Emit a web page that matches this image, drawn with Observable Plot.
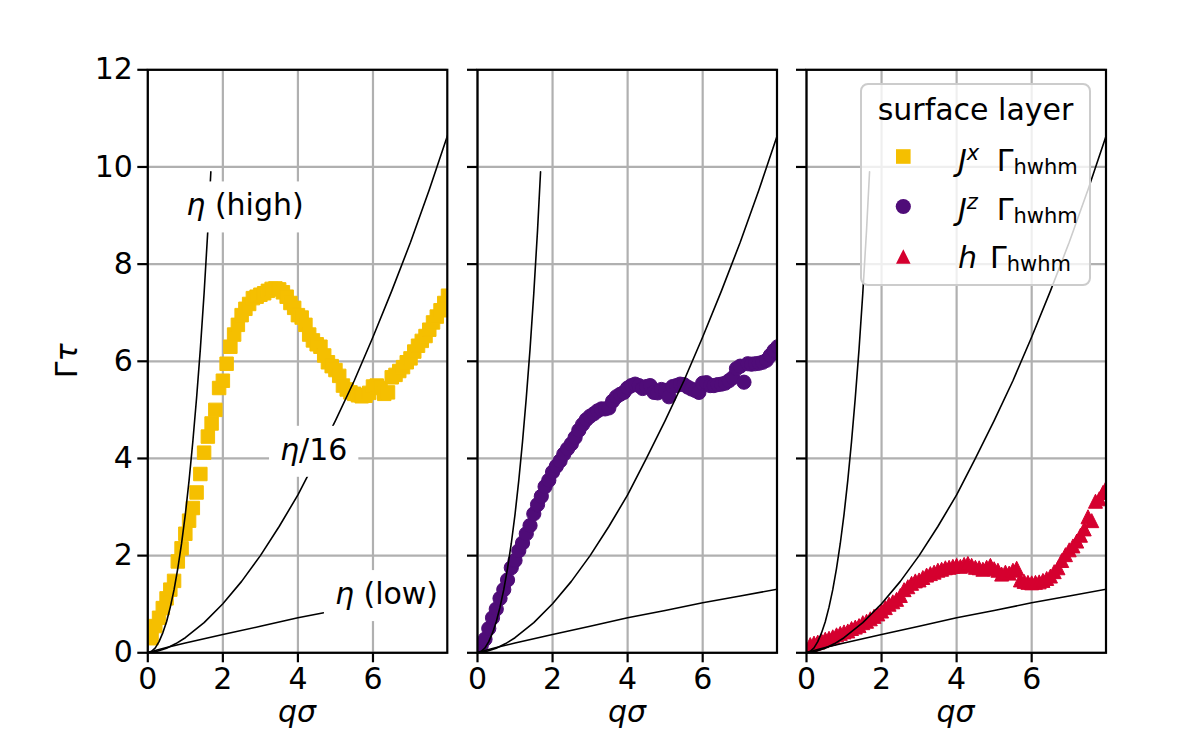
<!DOCTYPE html>
<html>
<head>
<meta charset="utf-8">
<script src="https://cdn.jsdelivr.net/npm/d3@7"></script>
<script src="https://cdn.jsdelivr.net/npm/@observablehq/plot@0.6"></script>
<style>
  body { margin: 0; background: #fff; }
  #fig { position: relative; width: 1196px; height: 745px; background: #fff; overflow: hidden; font-family: "DejaVu Sans", sans-serif; }
</style>
</head>
<body>
<div id="fig"></div>
<script>
// ---------------- data ----------------
const q = [0.1,0.2,0.3,0.4,0.5,0.6,0.7,0.8,0.9,1.0,
           1.1,1.2,1.3,1.4,1.5,1.6,1.7,1.8,1.9,2.0,
           2.1,2.2,2.3,2.4,2.5,2.6,2.7,2.8,2.9,3.0,
           3.1,3.2,3.3,3.4,3.5,3.6,3.7,3.8,3.9,4.0,
           4.1,4.2,4.3,4.4,4.5,4.6,4.7,4.8,4.9,5.0,
           5.1,5.2,5.3,5.4,5.5,5.6,5.7,5.8,5.9,6.0,
           6.1,6.2,6.3,6.4,6.5,6.6,6.7,6.8,6.9,7.0,
           7.1,7.2,7.3,7.4,7.5,7.6,7.7,7.8,7.9,8.0];

const gammaJx = [0.3,0.55,0.72,0.92,1.12,1.3,1.48,1.88,2.15,2.45,
                 2.72,2.98,3.3,3.68,4.12,4.45,4.72,5.0,5.45,5.6,
                 5.95,6.3,6.55,6.75,6.95,7.08,7.18,7.3,7.33,7.37,
                 7.4,7.45,7.49,7.5,7.48,7.42,7.33,7.2,7.1,6.95,
                 6.9,6.75,6.55,6.43,6.35,6.3,6.12,5.98,5.9,5.82,
                 5.7,5.5,5.42,5.36,5.33,5.3,5.28,5.29,5.35,5.48,
                 5.5,5.45,5.33,5.36,5.67,5.72,5.8,5.88,5.98,6.06,
                 6.2,6.32,6.42,6.52,6.65,6.8,6.92,7.05,7.2,7.35];

const gammaJz = [0.15,0.28,0.5,0.72,0.9,1.12,1.3,1.5,1.75,1.9,
                 2.1,2.26,2.45,2.62,2.86,3.05,3.22,3.42,3.55,3.72,
                 3.84,3.95,4.09,4.2,4.3,4.43,4.58,4.7,4.8,4.87,
                 4.92,4.98,5.02,5.02,5.04,5.18,5.27,5.32,5.36,5.45,
                 5.5,5.53,5.5,5.44,5.48,5.5,5.36,5.35,5.42,5.4,
                 5.27,5.48,5.5,5.53,5.52,5.47,5.43,5.4,5.36,5.55,
                 5.56,5.5,5.5,5.52,5.53,5.55,5.6,5.66,5.85,5.9,
                 5.57,5.95,5.94,5.95,5.96,5.98,6.02,6.12,6.22,6.3];

const gammaH = [0.17,0.2,0.22,0.25,0.28,0.3,0.33,0.37,0.4,0.43,
                0.45,0.5,0.53,0.56,0.62,0.65,0.7,0.75,0.8,0.86,
                0.93,1.0,1.05,1.1,1.18,1.3,1.36,1.43,1.48,1.5,
                1.55,1.6,1.63,1.66,1.7,1.72,1.75,1.76,1.78,1.8,
                1.78,1.82,1.84,1.8,1.76,1.75,1.72,1.76,1.8,1.73,
                1.7,1.62,1.66,1.64,1.7,1.74,1.5,1.47,1.45,1.44,
                1.45,1.46,1.49,1.53,1.58,1.67,1.75,1.9,2.02,2.12,
                2.2,2.3,2.42,2.55,2.8,2.72,3.12,3.17,3.3,3.42];

// reference curves
const highQ = [0,0.1,0.2,0.3,0.4,0.5,0.6,0.7,0.8,0.9,1.0,1.1,1.2,1.3,1.4,1.5,1.6,1.68];
const highG = [0,0.03,0.1,0.23,0.41,0.64,0.94,1.3,1.74,2.25,2.85,3.55,4.35,5.25,6.25,7.4,8.7,9.9];
const midQ  = [0,0.25,0.5,0.75,1,1.5,2,2.5,3,3.5,4,4.5,5,5.5,6,6.5,7,7.5,8];
const midG  = [0,0.03,0.095,0.19,0.31,0.62,1.01,1.47,2.0,2.6,3.25,4.0,4.78,5.6,6.5,7.45,8.45,9.53,10.68];
const lowQ  = [0,0.25,0.5,1,2,3,4,5,6,7,8];
const lowG  = [0,0.058,0.108,0.2,0.376,0.545,0.72,0.87,1.03,1.17,1.31];

const xTicks = [0,2,4,6];
const yTicks = [0,2,4,6,8,10,12];
const xDomain = [0, 7.98];
const yDomain = [0, 12];

const annotations = [
  {label: "η (high)", x: 2.59, y: 9.2},
  {label: "η/16",     x: 4.42, y: 4.17},
  {label: "η (low)",  x: 6.36, y: 1.2}
];

const seriesNames = ["Jx", "Jz", "h"];
const seriesColors = ["#f5bf00", "#4f0c78", "#d5002f"];
const legendTitle = "surface layer";
const legendLabels = [
  {main: "J", sup: "x"},
  {main: "J", sup: "z"},
  {main: "h", sup: null}
];

// ---------------- build ----------------
const NS = "http://www.w3.org/2000/svg";
const triangleSym = {
  draw(context, size) {
    const r = Math.sqrt(size / Math.PI);
    context.moveTo(0, -r);
    context.lineTo(r, r);
    context.lineTo(-r, r);
    context.closePath();
  }
};
const symbols = ["square", "circle", triangleSym];
const radii = [7.6, 7.1, 7.0];
const gammas = [gammaJx, gammaJz, gammaH];

const rows = (xs, ys) => xs.map((x, i) => ({x, y: ys[i]}));
const high = rows(highQ, highG), mid = rows(midQ, midG), low = rows(lowQ, lowG);

const fig = document.getElementById("fig");
const panelLeft = [147.3, 477.3, 805.7];
const innerW = 299.5, frameTop = 69.3, frameBottom = 652.3, H = 745;
const FS = 30;
const gridStyle = {stroke: "#b0b0b0", strokeOpacity: 1, strokeWidth: 2.2};
const lineStyle = {x: "x", y: "y", stroke: "black", strokeWidth: 1.6, clip: true};
const annotationSet = new Set(annotations.map(a => a.label));

for (let i = 0; i < 3; i++) {
  const ml = i === 0 ? panelLeft[0] : 30;
  const mr = 8;
  const marks = [
    Plot.ruleX(xTicks, {...gridStyle}),
    Plot.ruleY(yTicks, {...gridStyle}),
    Plot.dot(rows(q, gammas[i]), {
      x: "x", y: "y", symbol: symbols[i], r: radii[i],
      fill: seriesColors[i], stroke: seriesColors[i], strokeWidth: 1, clip: true
    }),
    Plot.line(high, lineStyle),
    Plot.line(mid,  lineStyle),
    Plot.line(low,  lineStyle)
  ];
  if (i === 0) {
    marks.push(Plot.text(annotations, {x: "x", y: "y", text: "label", fontSize: FS, fill: "black",
                                       textAnchor: "middle"}));
  }
  marks.push(
    Plot.frame({stroke: "black", strokeWidth: 2.2}),
    Plot.axisX({ticks: xTicks, tickSize: 10, tickPadding: 5, label: null, strokeWidth: 2.2, fontSize: FS}),
    Plot.axisY({ticks: yTicks, tickSize: 10, tickPadding: 5, label: null, strokeWidth: 2.2, fontSize: FS,
                tickFormat: i === 0 ? (d => String(d)) : (() => "")})
  );
  const svg = Plot.plot({
    width: ml + innerW + mr, height: H,
    marginLeft: ml, marginRight: mr, marginTop: frameTop, marginBottom: H - frameBottom,
    x: {domain: xDomain}, y: {domain: yDomain},
    style: {background: "transparent", fontSize: FS + "px", fontFamily: "DejaVu Sans", color: "black", overflow: "visible"},
    marks
  });
  svg.style.position = "absolute";
  svg.style.left = (panelLeft[i] - ml) + "px";
  svg.style.top = "0px";
  svg.style.maxWidth = "none";
  fig.appendChild(svg);

  // italic eta + white boxes behind the annotations
  Array.from(svg.querySelectorAll("text"))
    .filter(t => annotationSet.has(t.textContent))
    .forEach(t => {
      const s = t.textContent;
      t.textContent = "";
      const a = document.createElementNS(NS, "tspan");
      a.setAttribute("font-style", "italic");
      a.textContent = "η";
      t.appendChild(a);
      t.appendChild(document.createTextNode(s.slice(1)));
      const b = t.getBBox();
      const rect = document.createElementNS(NS, "rect");
      rect.setAttribute("x", b.x - 11);
      rect.setAttribute("y", b.y - 6);
      rect.setAttribute("width", b.width + 22);
      rect.setAttribute("height", b.height + 16);
      rect.setAttribute("fill", "white");
      rect.setAttribute("stroke", "none");
      if (t.getAttribute("transform")) rect.setAttribute("transform", t.getAttribute("transform"));
      t.parentNode.insertBefore(rect, t);
    });
}

// ---------------- overlay: axis labels and legend ----------------
const ov = document.createElementNS(NS, "svg");
ov.setAttribute("width", 1196); ov.setAttribute("height", 745);
ov.setAttribute("font-family", "DejaVu Sans");
ov.setAttribute("font-size", FS);
ov.style.position = "absolute"; ov.style.left = "0px"; ov.style.top = "0px";
fig.appendChild(ov);

function el(tag, attrs, parent) {
  const e = document.createElementNS(NS, tag);
  for (const k in attrs) e.setAttribute(k, attrs[k]);
  (parent || ov).appendChild(e);
  return e;
}
function tspan(parent, text, attrs) {
  const t = el("tspan", attrs || {}, parent);
  t.textContent = text;
  return t;
}

// y label
const yl = el("text", {transform: `translate(77,${(frameTop + frameBottom) / 2}) rotate(-90)`, "text-anchor": "middle"});
tspan(yl, "Γ");
tspan(yl, "τ", {"font-style": "italic"});

// x labels
panelLeft.forEach(L => {
  const xl = el("text", {x: L + innerW / 2, y: 722, "text-anchor": "middle", "font-style": "italic"});
  xl.textContent = "qσ";
});

// legend
el("rect", {x: 861, y: 84, width: 229, height: 201, rx: 7, ry: 7,
            fill: "white", "fill-opacity": 0.8, stroke: "#cccccc", "stroke-width": 2});
const lt = el("text", {x: 975.5, y: 120, "text-anchor": "middle"});
lt.textContent = legendTitle;
const rowBase = [170.5, 219.5, 268];
const markY = [156.5, 206.5, 256.5];
const mx = 903.3;
// markers
el("rect", {x: mx - 7.3, y: markY[0] - 7.3, width: 14.6, height: 14.6, fill: seriesColors[0]});
el("circle", {cx: mx, cy: markY[1], r: 7.6, fill: seriesColors[1]});
el("path", {d: `M${mx},${markY[2] - 7.3}L${mx + 7.3},${markY[2] + 7.3}L${mx - 7.3},${markY[2] + 7.3}Z`, fill: seriesColors[2]});
legendLabels.forEach((lab, k) => {
  const t1 = el("text", {x: 958, y: rowBase[k]});
  tspan(t1, lab.main, {"font-style": "italic"});
  if (lab.sup) tspan(t1, lab.sup, {"font-style": "italic", "font-size": 21, dy: -10.5});
  const gx = lab.sup ? 996.7 : 990;
  const t2 = el("text", {x: gx, y: rowBase[k]});
  tspan(t2, "Γ");
  tspan(t2, "hwhm", {"font-size": 21, dy: 3});
});
</script>
</body>
</html>
